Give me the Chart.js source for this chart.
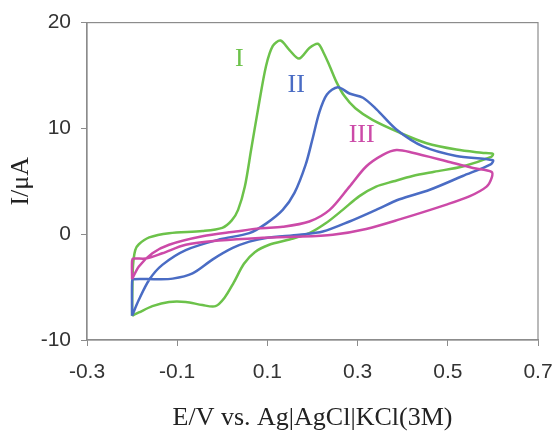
<!DOCTYPE html>
<html>
<head>
<meta charset="utf-8">
<script src="https://cdn.jsdelivr.net/npm/chart.js@4/dist/chart.umd.min.js"></script>
<style>
    html, body { margin: 0; padding: 0; background: #fff; }
    #wrap { width: 556px; height: 436px; }
</style>
</head>
<body>
<div id="wrap"><canvas id="myChart" width="556" height="436"></canvas></div>
<script>
// 電位 (V) と電流 (µA) - 図から読み取った値
const E_I = [-0.2, -0.1995, -0.198, -0.193, -0.185, -0.162, -0.118, -0.044, 0.0, 0.021, 0.035, 0.05, 0.064, 0.08, 0.097, 0.112, 0.129, 0.149, 0.17, 0.193, 0.212, 0.224, 0.238, 0.253, 0.27, 0.295, 0.333, 0.393, 0.453, 0.519, 0.575, 0.6,
             0.596, 0.533, 0.47, 0.422, 0.38, 0.341, 0.304, 0.267, 0.23, 0.193, 0.149, 0.104, 0.072, 0.048, 0.025, 0.005, -0.015, -0.044, -0.081, -0.118, -0.155, -0.185, -0.197, -0.2];
const I_I = [-7.7, -5.5, -3.0, -1.5, -0.95, -0.3, 0.1, 0.3, 0.6, 1.3, 2.3, 4.5, 8.0, 12.0, 15.9, 17.8, 18.3, 17.4, 16.6, 17.6, 18.0, 17.2, 15.9, 14.4, 13.1, 11.9, 10.8, 9.6, 8.6, 8.0, 7.7, 7.6,
             7.3, 6.4, 5.9, 5.5, 5.0, 4.5, 3.6, 2.3, 1.05, 0.1, -0.5, -1.0, -1.7, -2.8, -4.6, -6.0, -6.8, -6.7, -6.4, -6.4, -6.8, -7.4, -7.65, -7.7];

const E_II = [-0.2, -0.185, -0.162, -0.133, -0.081, -0.007, 0.06, 0.097, 0.134, 0.16, 0.185, 0.2, 0.215, 0.232, 0.256, 0.282, 0.312, 0.342, 0.386, 0.445, 0.519, 0.6,
              0.595, 0.533, 0.46, 0.393, 0.341, 0.282, 0.223, 0.171, 0.097, 0.06, 0.023, -0.022, -0.066, -0.11, -0.15, -0.197, -0.2, -0.2];
const I_II = [-7.7, -6.2, -4.3, -2.9, -1.5, -0.5, 0.1, 1.0, 2.3, 3.9, 6.6, 9.0, 11.5, 13.2, 13.9, 13.3, 12.9, 11.8, 9.9, 8.3, 7.4, 7.0,
              6.6, 5.5, 4.2, 3.3, 2.3, 1.2, 0.25, -0.05, -0.35, -0.7, -1.3, -2.4, -3.7, -4.2, -4.25, -4.25, -4.5, -7.7];

const E_III = [-0.2, -0.185, -0.155, -0.118, -0.044, 0.03, 0.082, 0.134, 0.193, 0.238, 0.282, 0.319, 0.356, 0.386, 0.422, 0.497, 0.556, 0.597,
               0.597, 0.586, 0.549, 0.497, 0.393, 0.319, 0.245, 0.16, 0.082, -0.007, -0.081, -0.133, -0.17, -0.197, -0.2, -0.2];
const I_III = [-4.25, -3.05, -1.8, -1.0, -0.2, 0.25, 0.55, 0.7, 1.2, 2.3, 4.5, 6.4, 7.5, 7.95, 7.7, 6.9, 6.25, 5.9,
               5.3, 4.5, 3.6, 2.8, 1.4, 0.5, -0.05, -0.25, -0.35, -0.6, -1.0, -1.8, -2.3, -2.3, -2.5, -4.25];

const xTicks = [-0.3, -0.1, 0.1, 0.3, 0.5, 0.7];
const yTicks = [-10, 0, 10, 20];

// 曲線ラベルの位置 (データ座標)
const curveLabels = [
    { text: "I", x: 0.038, y: 16.5, color: "#6cc24a" },
    { text: "II", x: 0.164, y: 14.1, color: "#4a6cc4" },
    { text: "III", x: 0.309, y: 9.4, color: "#cc4aa8" }
];

const toPoints = (xs, ys) => xs.map((x, i) => ({ x: x, y: ys[i] }));

// 枠線とラベルを描くプラグイン
const framePlugin = {
    id: "frame",
    afterDraw(chart) {
        const { ctx, chartArea, scales } = chart;
        ctx.save();
        ctx.strokeStyle = "#8c8c8c";
        ctx.lineWidth = 1.2;
        ctx.strokeRect(chartArea.left, chartArea.top, chartArea.right - chartArea.left, chartArea.bottom - chartArea.top);
        ctx.font = "26px 'Liberation Serif'";
        ctx.textAlign = "center";
        ctx.textBaseline = "middle";
        curveLabels.forEach(l => {
            ctx.fillStyle = l.color;
            ctx.fillText(l.text, scales.x.getPixelForValue(l.x), scales.y.getPixelForValue(l.y));
        });
        ctx.restore();
    }
};

const line = (data, color) => ({
    data: data,
    showLine: true,
    borderColor: color,
    borderWidth: 2.5,
    pointRadius: 0,
    tension: 0.3,
    fill: false
});

const ctx = document.getElementById("myChart").getContext("2d");

new Chart(ctx, {
    type: "scatter",
    data: {
        datasets: [
            line(toPoints(E_III, I_III), "#cc4aa8"),
            line(toPoints(E_II, I_II), "#4a6cc4"),
            line(toPoints(E_I, I_I), "#6cc24a")
        ]
    },
    options: {
        responsive: false,
        animation: false,
        layout: { padding: { top: 22, right: 0, left: 0, bottom: 0 } },
        plugins: {
            legend: { display: false },
            tooltip: { enabled: false }
        },
        scales: {
            x: {
                type: "linear",
                min: -0.3,
                max: 0.7,
                afterBuildTicks: s => { s.ticks = xTicks.map(v => ({ value: v })); },
                afterFit: s => { s.height = 96; s.paddingLeft = 0; s.paddingRight = 18; },
                ticks: {
                    callback: v => v.toFixed(1),
                    color: "#333",
                    font: { family: "'Liberation Sans'", size: 21 },
                    padding: 14,
                    maxRotation: 0
                },
                grid: { display: true, drawOnChartArea: false, drawTicks: true, tickLength: 6, color: "#8c8c8c" },
                border: { display: true, color: "#8c8c8c", width: 1.2 },
                title: {
                    display: true,
                    text: "E/V vs. Ag|AgCl|KCl(3M)",
                    color: "#222",
                    font: { family: "'Liberation Serif'", size: 26 },
                    padding: { top: 0, bottom: 2 }
                }
            },
            y: {
                min: -10,
                max: 20,
                afterBuildTicks: s => { s.ticks = yTicks.map(v => ({ value: v })); },
                afterFit: s => { s.width = 87; },
                ticks: {
                    color: "#333",
                    font: { family: "'Liberation Sans'", size: 21 },
                    padding: 10
                },
                grid: { display: true, drawOnChartArea: false, drawTicks: true, tickLength: 6, color: "#8c8c8c" },
                border: { display: true, color: "#8c8c8c", width: 1.2 },
                title: {
                    display: true,
                    text: "I/μA",
                    color: "#222",
                    font: { family: "'Liberation Serif'", size: 26 },
                    padding: { top: 6, bottom: 0 }
                }
            }
        }
    },
    plugins: [framePlugin]
});
</script>
</body>
</html>
